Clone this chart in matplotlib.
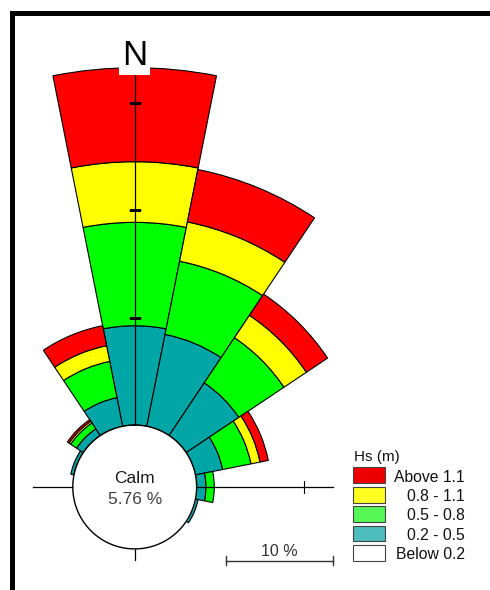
import numpy as np
import matplotlib
matplotlib.use('Agg')
import matplotlib.pyplot as plt
from matplotlib.patches import Rectangle

plt.rcParams['font.family'] = ['Liberation Sans', 'DejaVu Sans']

# Wave rose: frequency of occurrence (%) per direction and Hs class
directions = ['N', 'NNE', 'NE', 'ENE', 'E', 'ESE', 'SE', 'SSE',
              'S', 'SSW', 'SW', 'WSW', 'W', 'WNW', 'NW', 'NNW']
hs_02_05 = [9.24, 8.71, 5.89, 2.58, 0.87, 0.25, 0, 0, 0, 0, 0, 0, 0, 0.30, 0.75, 2.71]
hs_05_08 = [9.62, 6.94, 5.05, 2.69, 0.77, 0, 0, 0, 0, 0, 0, 0, 0, 0, 0.65, 3.44]
hs_08_11 = [5.64, 3.73, 2.51, 0.86, 0, 0, 0, 0, 0, 0, 0, 0, 0, 0, 0.19, 1.49]
hs_above_11 = [8.74, 4.97, 2.37, 0.78, 0, 0, 0, 0, 0, 0, 0, 0, 0, 0, 0.18, 1.90]
calm_pct = 5.76

class_labels = ['Above 1.1', '0.8 - 1.1', '0.5 - 0.8', '0.2 - 0.5', 'Below 0.2']
bar_colors = ['#00A5A5', '#00FF00', '#FFFF00', '#FF0000']
legend_colors = ['#EE0000', '#FFFF22', '#55F855', '#4DBDBD', 'white']
ring_ticks = [10, 20, 30]

W, H = 490, 590
fig = plt.figure(figsize=(W / 100, H / 100), dpi=100)

# rose centre (pixels from top-left) and radial scale
cx, cy = 134.7, 487.0
px_per_pct = 10.75
rmax = 35
R = (rmax + calm_pct) * px_per_pct

ax = fig.add_axes([(cx - R) / W, (H - cy - R) / H, 2 * R / W, 2 * R / H],
                  projection='polar')
ax.set_theta_zero_location('N')
ax.set_theta_direction(-1)
ax.set_ylim(-calm_pct, rmax)
ax.axis('off')

theta = np.deg2rad(np.arange(len(directions)) * 22.5)
width = np.deg2rad(22.5)
bottom = np.zeros(len(directions))
for vals, col in zip([hs_02_05, hs_05_08, hs_08_11, hs_above_11], bar_colors):
    vals = np.array(vals, dtype=float)
    keep = vals > 0
    ax.bar(theta[keep], vals[keep], width=width, bottom=bottom[keep],
           color=col, edgecolor='black', linewidth=0.8, zorder=2)
    bottom += vals

# axis lines and ticks
ax.plot([0, 0], [0, 33.5], color='black', lw=0.9, zorder=3)
ax.plot([np.pi / 2, np.pi / 2], [0, 12.66], color='black', lw=0.9, zorder=3)
ax.plot([3 * np.pi / 2, 3 * np.pi / 2], [0, 3.7], color='black', lw=0.9, zorder=3)
ax.plot([np.pi, np.pi], [0, 1.0], color='black', lw=0.9, zorder=3)
ax.plot(np.zeros(len(ring_ticks)), ring_ticks, ls='none', marker='_',
        ms=8, mew=0.8, color='black', zorder=3)
ax.plot([np.pi / 2], [ring_ticks[0]], ls='none', marker='|',
        ms=9, mew=0.8, color='black', zorder=3)

# calm circle
ring = np.linspace(0, 2 * np.pi, 361)
ax.fill_between(ring, -calm_pct, 0, color='white', lw=0, zorder=4)
ax.plot(ring, np.zeros_like(ring), color='black', lw=1, zorder=5)
ax.annotate('Calm', xy=(0, -calm_pct), xytext=(0, 2.7), textcoords='offset points',
            ha='center', va='baseline', fontsize=12.5, color='#1a1a1a', zorder=6)
ax.annotate(f'{calm_pct:.2f} %', xy=(0, -calm_pct), xytext=(0, -12.2),
            textcoords='offset points', ha='center', va='baseline',
            fontsize=12.5, color='#404040', zorder=6)

ax.text(0, 33.5, 'N', ha='center', va='baseline', fontsize=25, zorder=6,
        bbox=dict(boxstyle='square,pad=0.08', fc='white', ec='none'))

# overlay in pixel units for frame, scale bar and legend
ov = fig.add_axes([0, 0, 1, 1])
ov.set_xlim(0, W)
ov.set_ylim(H, 0)
ov.axis('off')

ov.plot([11.7, 11.7, W], [H, 13.2, 13.2], color='black', lw=3.6,
        solid_joinstyle='miter', solid_capstyle='butt')

x0, ys = 225.7, 560.7
L = 10 * px_per_pct
ov.plot([x0, x0 + L], [ys, ys], color='#333333', lw=1)
for xe in (x0, x0 + L):
    ov.plot([xe, xe], [ys - 4.5, ys + 4.5], color='#333333', lw=1)
ov.text(x0 + L / 2, 555.5, '10 %', ha='center', va='baseline',
        fontsize=11.5, color='#333333')

ov.text(354, 460.7, 'Hs (m)', ha='left', va='baseline', fontsize=11, color='#111111')
for i, (lab, col) in enumerate(zip(class_labels, legend_colors)):
    top = 467.3 + i * 19.4
    ov.add_patch(Rectangle((352.7, top), 32.3, 15.8, facecolor=col,
                           edgecolor='#444444', lw=0.8))
    ov.text(465, top + 14.4, lab, ha='right', va='baseline',
            fontsize=11.3, color='#111111')

fig.savefig('out.png', dpi=100)
